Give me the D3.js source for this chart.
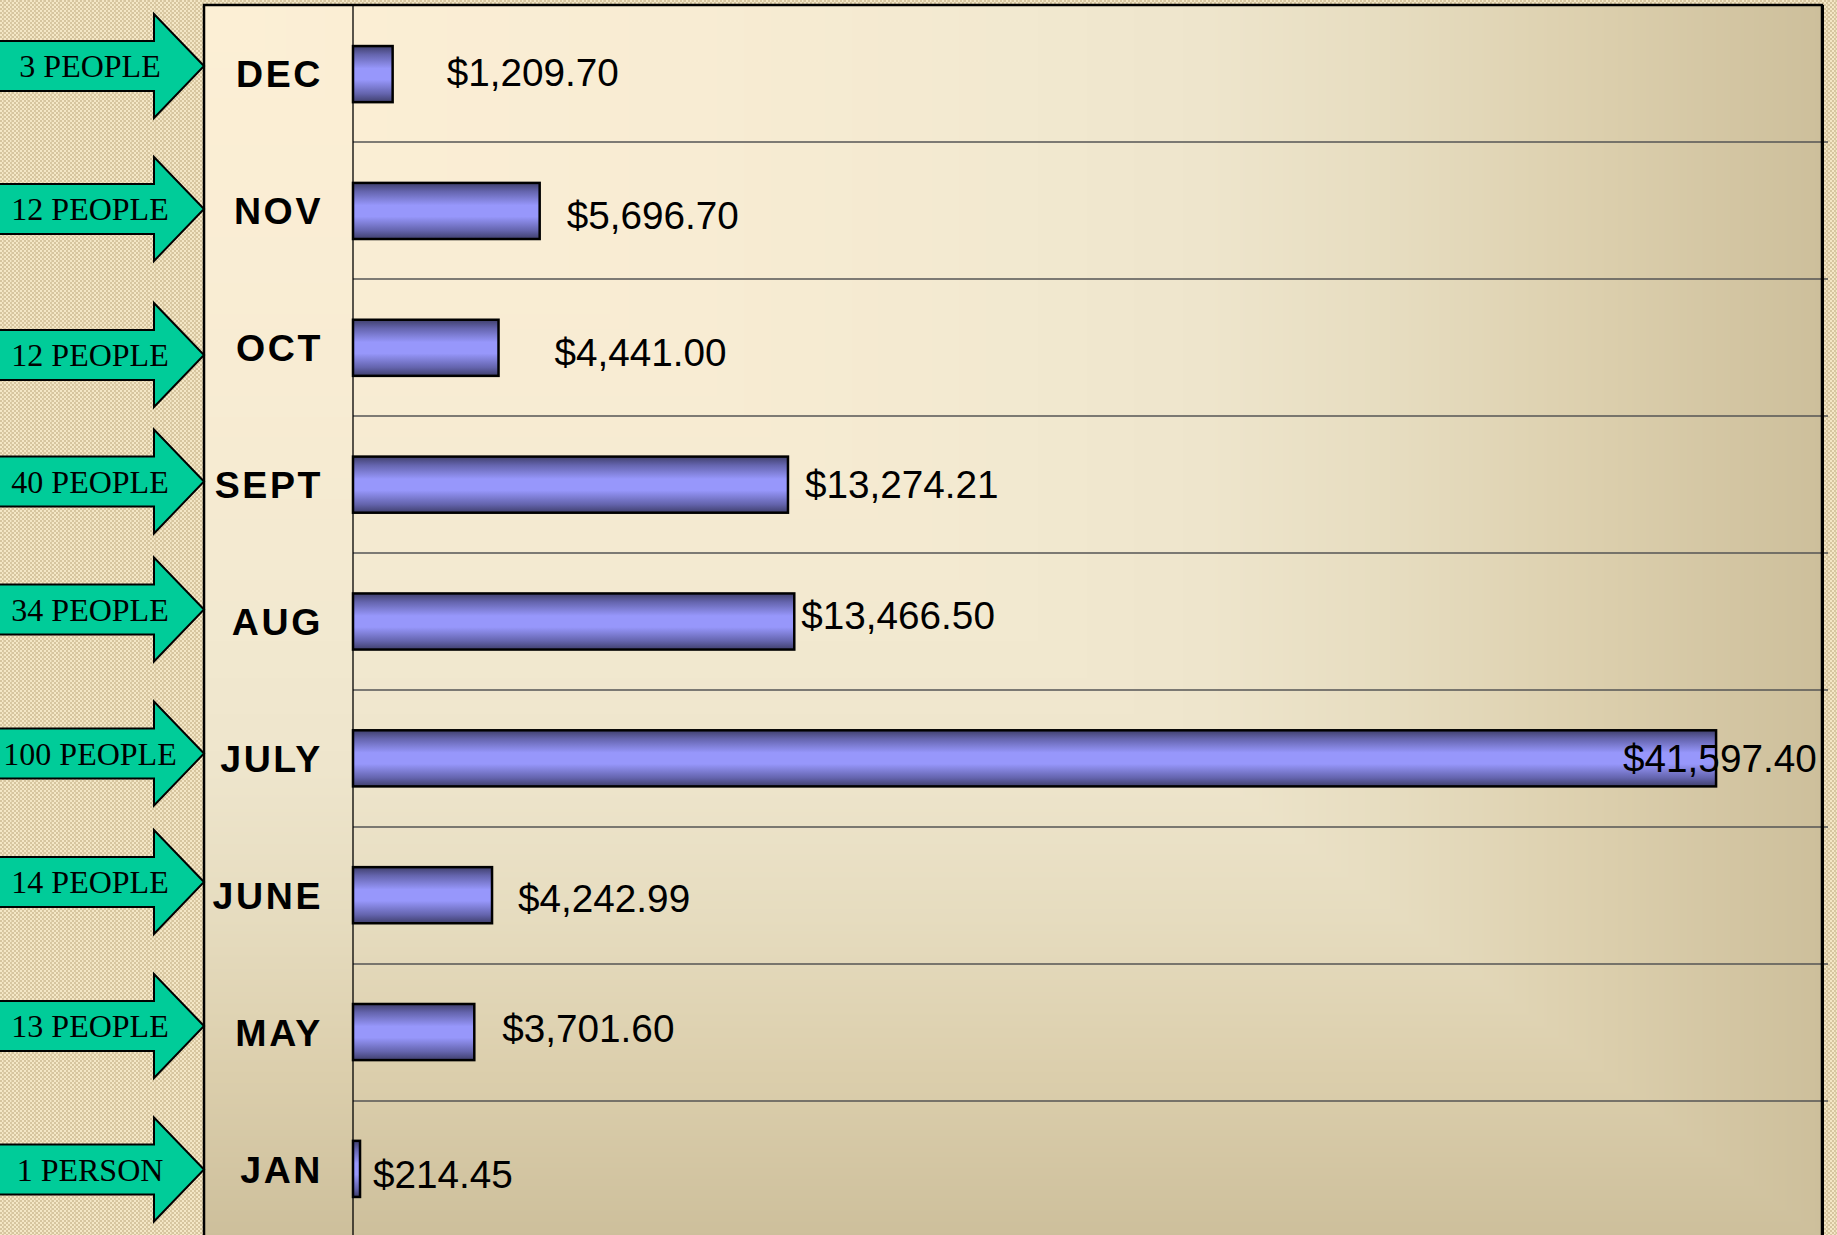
<!DOCTYPE html>
<html>
<head>
<meta charset="utf-8">
<script src="https://cdn.jsdelivr.net/npm/d3@7"></script>
<style>
  body { margin: 0; overflow: hidden; background: #e6d6b2; }
  svg { display: block; }
</style>
</head>
<body>
<svg width="1837" height="1235"></svg>
<script>
// data, top row to bottom row
var months = ["DEC", "NOV", "OCT", "SEPT", "AUG", "JULY", "JUNE", "MAY", "JAN"];
var amounts = [1209.70, 5696.70, 4441.00, 13274.21, 13466.50, 41597.40, 4242.99, 3701.60, 214.45];
var people = ["3 PEOPLE", "12 PEOPLE", "12 PEOPLE", "40 PEOPLE", "34 PEOPLE",
              "100 PEOPLE", "14 PEOPLE", "13 PEOPLE", "1 PERSON"];
var xMax = 44830;

// hand placed bits of the original slide (px nudges)
var labelDx = [54, 27, 56, 17, 7, -93, 26, 28, 13];
var labelDy = [-1, 5, 5, 0, -6, 0, 3, -4, 5];
var arrowDy = [-7.5, -1.5, 7.5, -3, -12, -5, -13.5, -6.5, 0];

var svg = d3.select("svg"),
    width = +svg.attr("width"),
    height = +svg.attr("height");

var frame = {left: 204, top: 5, right: 1822, bottom: 1238},
    axisX = 353;

var x = d3.scaleLinear().domain([0, xMax]).range([axisX, frame.right]);
var row = d3.scaleBand().domain(months).range([frame.top, frame.bottom]);
var y = d3.scaleBand().domain(months).range([frame.top, frame.bottom])
    .paddingInner(0.59).paddingOuter(0.3);

var defs = svg.append("defs");

// checkered slide background
var pat = defs.append("pattern")
    .attr("id", "checks")
    .attr("width", 8).attr("height", 8)
    .attr("patternUnits", "userSpaceOnUse");
pat.append("rect").attr("width", 8).attr("height", 8).attr("fill", "#f4e7c6");
[[0,0],[4,0],[2,2],[6,2],[0,4],[4,4],[2,6],[6,6]].forEach(function(p) {
    pat.append("rect").attr("x", p[0]).attr("y", p[1])
        .attr("width", 2).attr("height", 2).attr("fill", "#d6c59f");
});
pat.append("rect").attr("x", 3).attr("y", 0).attr("width", 1).attr("height", 8)
    .attr("fill", "#d9c8a2").attr("opacity", 0.6);

svg.append("rect")
    .attr("width", width).attr("height", height)
    .attr("fill", "url(#checks)");

// bar gradient
var bg = defs.append("linearGradient")
    .attr("id", "barFill")
    .attr("x1", 0).attr("y1", 0).attr("x2", 0).attr("y2", 1);
[[0, "#3f3f6c"], [0.15, "#6464ad"], [0.4, "#9797fb"], [0.6, "#9797fb"],
 [0.85, "#6464ad"], [1, "#3f3f6c"]].forEach(function(s) {
    bg.append("stop").attr("offset", s[0]).attr("stop-color", s[1]);
});

// "from corner" fill of the chart area, drawn on a canvas
var fw = frame.right - frame.left, fh = frame.bottom - frame.top;
var shade = d3.scaleLinear()
    .domain([0, 0.3, 0.5, 0.62, 0.74, 0.86, 1])
    .range(["#fcefd5", "#f8ecd3", "#f2e9d0", "#eee5cc", "#e6dcbf", "#dccfad", "#cdbf9b"])
    .clamp(true);
var lut = d3.range(1025).map(function(i) { return d3.rgb(shade(i / 1024)); });
var canvas = document.createElement("canvas");
canvas.width = fw; canvas.height = fh;
var ctx = canvas.getContext("2d");
var img = ctx.createImageData(fw, fh);
for (var j = 0; j < fh; j++) {
    for (var i = 0; i < fw; i++) {
        var t = Math.max(i / fw, j / fh);
        var c = lut[Math.round(t * 1024)];
        var k = (j * fw + i) * 4;
        img.data[k] = c.r; img.data[k + 1] = c.g; img.data[k + 2] = c.b; img.data[k + 3] = 255;
    }
}
ctx.putImageData(img, 0, 0);
svg.append("image")
    .attr("x", frame.left).attr("y", frame.top)
    .attr("width", fw).attr("height", fh)
    .attr("href", canvas.toDataURL());

// grid lines between rows
svg.append("g")
    .selectAll("line")
    .data(months.slice(1))
    .enter().append("line")
        .attr("x1", axisX).attr("x2", frame.right + 6)
        .attr("y1", function(d) { return row(d); })
        .attr("y2", function(d) { return row(d); })
        .attr("stroke", "#555")
        .attr("stroke-width", 1.3);

// bars
svg.append("g")
    .selectAll("rect")
    .data(months)
    .enter().append("rect")
        .attr("x", x(0))
        .attr("y", function(d) { return y(d); })
        .attr("width", function(d, i) { return x(amounts[i]) - x(0); })
        .attr("height", y.bandwidth())
        .attr("fill", "url(#barFill)")
        .attr("stroke", "#000")
        .attr("stroke-width", 2.5);

// value labels
svg.append("g")
    .selectAll("text")
    .data(months)
    .enter().append("text")
        .attr("x", function(d, i) { return x(amounts[i]) + labelDx[i]; })
        .attr("y", function(d, i) { return row(d) + row.bandwidth() / 2 + labelDy[i]; })
        .attr("dy", "0.36em")
        .style("font-family", "'Liberation Sans', Arial, sans-serif")
        .style("font-size", "38.7px")
        .attr("fill", "#000")
        .text(function(d, i) { return "$" + d3.format(",.2f")(amounts[i]); });

// axis line and frame
svg.append("line")
    .attr("x1", axisX).attr("x2", axisX)
    .attr("y1", frame.top).attr("y2", frame.bottom)
    .attr("stroke", "#000").attr("stroke-width", 1.3);
svg.append("path")
    .attr("d", "M" + frame.left + "," + frame.bottom + "V" + frame.top + "H" + frame.right + "V" + frame.bottom)
    .attr("fill", "none")
    .attr("stroke", "#000")
    .attr("stroke-width", 2.5);
svg.append("line")
    .attr("x1", frame.right + 0.5).attr("x2", frame.right + 0.5)
    .attr("y1", frame.top).attr("y2", frame.bottom)
    .attr("stroke", "#000").attr("stroke-width", 3);

// month labels
svg.append("g")
    .selectAll("text")
    .data(months)
    .enter().append("text")
        .attr("x", 323)
        .attr("y", function(d) { return row(d) + row.bandwidth() / 2; })
        .attr("dy", "0.36em")
        .attr("text-anchor", "end")
        .style("font-family", "'Liberation Sans', Arial, sans-serif")
        .style("font-weight", "bold")
        .style("font-size", "37.5px")
        .style("letter-spacing", "2.6px")
        .text(function(d) { return d; });

// green arrows with head counts
var arrow = svg.append("g")
    .selectAll("g")
    .data(months)
    .enter().append("g")
        .attr("transform", function(d, i) {
            return "translate(0," + (row(d) + row.bandwidth() / 2 + arrowDy[i]) + ")";
        });

arrow.append("path")
    .attr("d", "M-3,-25H154V-52L" + frame.left + ",0L154,52V25H-3Z")
    .attr("fill", "#00cc99")
    .attr("stroke", "#000")
    .attr("stroke-width", 2)
    .attr("stroke-linejoin", "miter");

arrow.append("text")
    .attr("x", 90)
    .attr("dy", "0.35em")
    .attr("text-anchor", "middle")
    .style("font-family", "'Liberation Serif', 'Times New Roman', serif")
    .style("font-size", "32px")
    .text(function(d, i) { return people[i]; });
</script>
</body>
</html>
